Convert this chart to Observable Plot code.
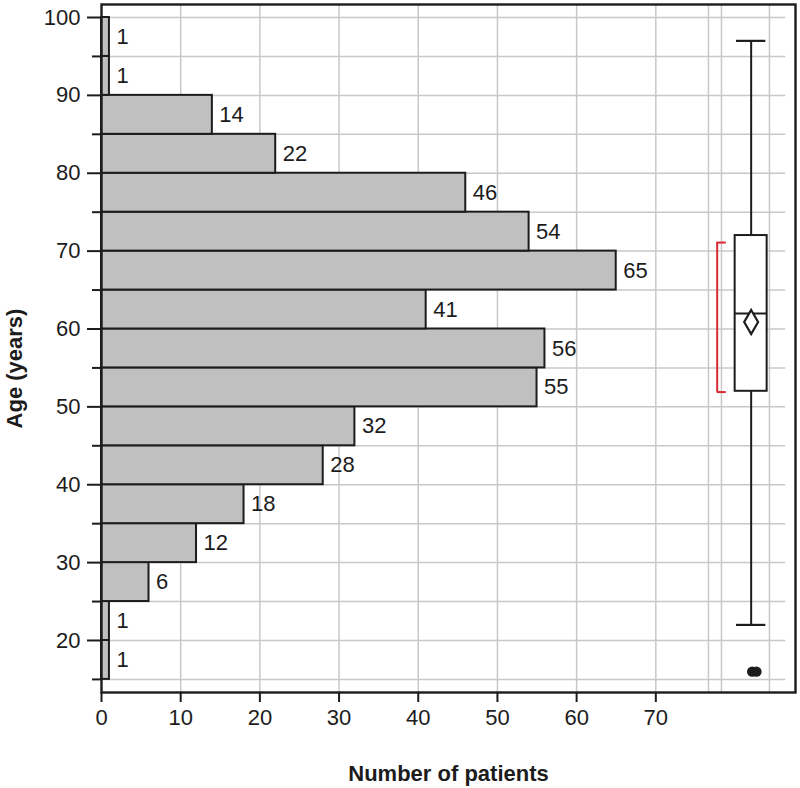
<!DOCTYPE html>
<html><head><meta charset="utf-8">
<script src="https://cdn.jsdelivr.net/npm/d3@7"></script>
<script src="https://cdn.jsdelivr.net/npm/@observablehq/plot@0.6"></script>
<style>body{margin:0;background:#fff}</style>
</head><body><div id="chart"></div>
<script>
// ---- data ----
const binStarts = [15, 20, 25, 30, 35, 40, 45, 50, 55, 60, 65, 70, 75, 80, 85, 90, 95];
const binWidth = 5;
const counts = [1, 1, 6, 12, 18, 28, 32, 55, 56, 41, 65, 54, 46, 22, 14, 1, 1];
const yTickLabels = [20, 30, 40, 50, 60, 70, 80, 90, 100];
const yMinorTicks = [15, 25, 35, 45, 55, 65, 75, 85, 95];
const xTickLabels = [0, 10, 20, 30, 40, 50, 60, 70];
const whiskers = [22, 97];
const quartiles = [52, 72];
const median = [62];
const mean = [60.9];
const outliers = [16, 16];
const bracket = [51.9, 71.1];
const xTitle = "Number of patients";
const yTitle = "Age (years)";

// ---- layout ----
const fg = "#1c1c1c";
const grid = "#c8c8c8";
const red = "#d9282f";
const boxX = 82.04, boxHalf = 2.02, capHalf = 1.85;
const bracketX = 77.75, bracketCap = 1.15;
const outlierJitter = [0.13, 0.67];
const gridXs = [10, 20, 30, 40, 50, 60, 70, 76.65, 78.29, 84.35];
const gridYs = d3.range(15, 101, 5);
const gridRight = 86.4;

const bins = binStarts.map((s, i) => ({lo: s, hi: s + binWidth, count: counts[i]}));

const chart = Plot.plot({
  width: 800, height: 788,
  marginLeft: 101, marginRight: 5, marginTop: 4, marginBottom: 96,
  style: {fontFamily: "'Liberation Sans', Arial, sans-serif", fontSize: "22px", color: fg, background: "#fff"},
  x: {domain: [0, 87.64], label: null},
  y: {domain: [13.32, 101.67], label: null},
  marks: [
    Plot.ruleY(gridYs, {x1: 0, x2: gridRight, stroke: grid, strokeWidth: 1.5}),
    Plot.ruleX(gridXs, {stroke: grid, strokeWidth: 1.5}),
    Plot.rectX(bins, {y1: "lo", y2: "hi", x1: 0, x2: "count", fill: "#bfc0bf", stroke: fg, strokeWidth: 2}),
    Plot.text(bins, {x: "count", y: d => (d.lo + d.hi) / 2, text: d => String(d.count), textAnchor: "start", dx: 7, fontSize: 22, fill: fg}),
    // box plot
    Plot.ruleX([0], {x: boxX, y1: whiskers[0], y2: quartiles[0], stroke: fg, strokeWidth: 2}),
    Plot.ruleX([0], {x: boxX, y1: quartiles[1], y2: whiskers[1], stroke: fg, strokeWidth: 2}),
    Plot.ruleY(whiskers, {x1: boxX - capHalf, x2: boxX + capHalf, stroke: fg, strokeWidth: 2.2}),
    Plot.rect([0], {x1: boxX - boxHalf, x2: boxX + boxHalf, y1: quartiles[0], y2: quartiles[1], fill: "#fff", stroke: fg, strokeWidth: 2}),
    Plot.ruleY(median, {x1: boxX - boxHalf, x2: boxX + boxHalf, stroke: fg, strokeWidth: 2}),
    Plot.dot(mean, {x: boxX, y: d => d, symbol: "diamond", r: 7.3, stroke: fg, strokeWidth: 2.2, fill: "#fff"}),
    Plot.dot(outliers, {x: (d, i) => boxX + outlierJitter[i], y: d => d, r: 5.2, fill: fg, stroke: "none"}),
    Plot.ruleX([0], {x: bracketX, y1: bracket[0], y2: bracket[1], stroke: red, strokeWidth: 2}),
    Plot.ruleY(bracket, {x1: bracketX, x2: bracketX + bracketCap, stroke: red, strokeWidth: 2}),
    Plot.frame({stroke: fg, strokeWidth: 2.4}),
    Plot.axisY(yTickLabels, {tickSize: 14, tickPadding: 7, stroke: fg, strokeWidth: 2, fontSize: 22, label: null}),
    Plot.axisY(yMinorTicks, {tickSize: 9, tickFormat: () => "", stroke: fg, strokeWidth: 2, label: null}),
    Plot.axisX(xTickLabels, {tickSize: 10, tickPadding: 7, stroke: fg, strokeWidth: 2, fontSize: 22, label: null}),
    Plot.text([xTitle], {frameAnchor: "bottom", textAnchor: "middle", lineAnchor: "middle", dy: 81, fontWeight: "bold", fontSize: 22, fill: fg}),
    Plot.text([yTitle], {frameAnchor: "left", textAnchor: "middle", lineAnchor: "middle", rotate: -90, dx: -87, dy: 20, fontWeight: "bold", fontSize: 22, fill: fg})
  ]
});
document.getElementById("chart").append(chart);
</script>
</body></html>
